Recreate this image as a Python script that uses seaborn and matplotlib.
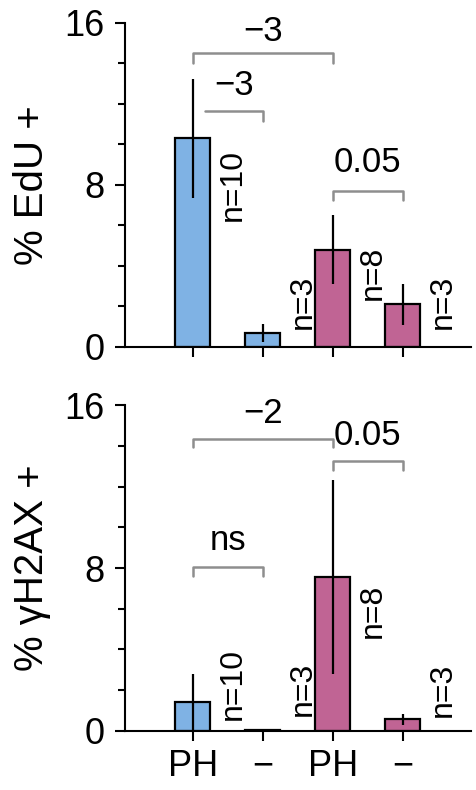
import numpy as np
import pandas as pd
import seaborn as sns
import matplotlib.pyplot as plt
from matplotlib.ticker import MultipleLocator

# data
groups = ['PH_a', 'neg_a', 'PH_b', 'neg_b']
tick_labels = ['PH', '\u2212', 'PH', '\u2212']
n_labels = ['n=10', 'n=3', 'n=8', 'n=3']

edu_mean = [10.3, 0.67, 4.8, 2.1]
edu_err = [2.95, 0.45, 1.7, 1.0]

h2ax_mean = [1.4, 0.05, 7.56, 0.57]
h2ax_err = [1.4, 0.0, 4.75, 0.27]

# y position (data units) of the rotated n= labels
edu_n_y = [8.0, 2.2, 3.65, 2.2]
h2ax_n_y = [2.3, 2.05, 5.9, 2.0]

# brackets: (x1, x2, y, leg drop, label, label y, left leg)
edu_brackets = [
    (0, 2, 14.53, 0.5, '\u22123', 15.6, True),
    (0.17, 1, 11.65, 0.5, '\u22123', 12.9, False),
    (2, 3, 7.72, 0.47, '0.05', 9.1, True),
]
h2ax_brackets = [
    (0, 2, 14.35, 0.42, '\u22122', 15.6, True),
    (2, 3, 13.28, 0.45, '0.05', 14.5, True),
    (0, 1, 8.05, 0.45, 'ns', 9.36, True),
]

colors = ['#7fb2e4', '#7fb2e4', '#c06494', '#c06494']

sns.set_style('ticks')
plt.rcParams['font.family'] = ['Liberation Sans', 'DejaVu Sans']

fig = plt.figure(figsize=(4.77, 7.9), dpi=100)
ax1 = fig.add_axes([0.262, 0.561, 0.725, 0.41])
ax2 = fig.add_axes([0.262, 0.075, 0.725, 0.412])


def draw_panel(ax, means, errs, n_y, brackets, ylabel, show_labels):
    df = pd.DataFrame({'group': groups, 'value': means})
    sns.barplot(data=df, x='group', y='value', hue='group', palette=colors,
                saturation=1, width=0.5, edgecolor='black', linewidth=1.6,
                legend=False, errorbar=None, ax=ax)
    ax.errorbar(np.arange(len(means)), means, yerr=errs, fmt='none',
                ecolor='black', elinewidth=1.6, capsize=0)
    for i, (lab, y) in enumerate(zip(n_labels, n_y)):
        ax.text(i + 0.57, y, lab, rotation=90, ha='center', va='center',
                fontsize=23, color='black')
    for x1, x2, y, d, lab, ly, left in brackets:
        xs = [x1, x2, x2] if not left else [x1, x1, x2, x2]
        ys = [y, y, y - d] if not left else [y - d, y, y, y - d]
        ax.plot(xs, ys, color='#8e8e8e', lw=1.8, clip_on=False)
        ax.text((x1 + x2) / 2, ly, lab, ha='center', va='center',
                fontsize=25, color='black')
    ax.set_xlim(-0.97, 3.97)
    ax.set_ylim(0, 16)
    ax.set_yticks([0, 8, 16])
    ax.yaxis.set_minor_locator(MultipleLocator(2))
    ax.tick_params(axis='y', which='major', length=7, width=1.5,
                   labelsize=26, pad=8, colors='black')
    ax.tick_params(axis='y', which='minor', length=5, width=1.5,
                   colors='black')
    ax.tick_params(axis='x', length=7, width=1.5, labelsize=26, pad=6,
                   colors='black')
    ax.set_xticks(range(4))
    if show_labels:
        ax.set_xticklabels(tick_labels)
    else:
        ax.set_xticklabels([])
    ax.set_xlabel('')
    ax.set_ylabel(ylabel, fontsize=29, color='black')
    ax.yaxis.set_label_coords(-0.215, 0.5)
    sns.despine(ax=ax)
    for s in ['left', 'bottom']:
        ax.spines[s].set_linewidth(1.5)
        ax.spines[s].set_color('black')


draw_panel(ax1, edu_mean, edu_err, edu_n_y, edu_brackets, '% EdU +', False)
draw_panel(ax2, h2ax_mean, h2ax_err, h2ax_n_y, h2ax_brackets,
           '% \u03b3H2AX +', True)

fig.savefig('out.png', dpi=100)
